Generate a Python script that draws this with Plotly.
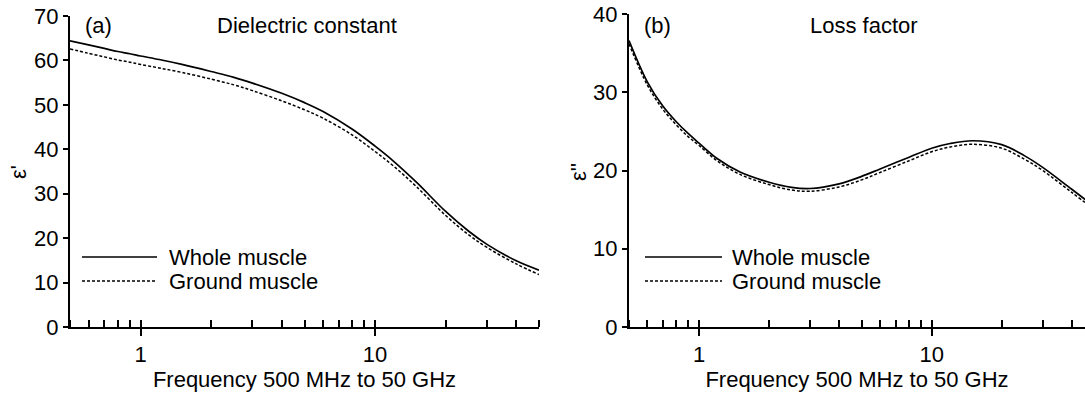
import plotly.graph_objects as go
import math

# Frequency (GHz)
freq = [0.5, 0.6, 0.7, 0.8, 0.9, 1, 1.2, 1.5, 2, 2.5, 3, 4, 5, 6, 8, 10, 12, 15, 20, 25, 30, 40, 50]

# (a) Dielectric constant
eps1_whole = [64.4, 63.5, 62.7, 62.0, 61.5, 61.0, 60.2, 59.1, 57.5, 56.2, 54.9, 52.6, 50.5, 48.5, 44.5, 40.7,
              37.3, 32.6, 26.0, 21.6, 18.6, 14.9, 12.8]
eps1_ground = [62.6, 61.6, 60.8, 60.1, 59.6, 59.1, 58.3, 57.3, 55.8, 54.5, 53.2, 50.9, 48.9, 47.0, 43.2, 39.5,
               36.2, 31.6, 25.1, 20.8, 17.9, 14.2, 11.8]

# (b) Loss factor
eps2_whole = [36.6, 31.3, 28.2, 26.2, 24.7, 23.5, 21.5, 19.8, 18.5, 17.85, 17.7, 18.3, 19.25, 20.2, 21.7, 22.85,
              23.45, 23.8, 23.3, 21.9, 20.4, 17.6, 15.4]
eps2_ground = [36.2, 30.9, 27.8, 25.8, 24.3, 23.2, 21.2, 19.5, 18.2, 17.5, 17.35, 17.9, 18.8, 19.75, 21.25, 22.4,
               23.0, 23.35, 22.85, 21.45, 20.0, 17.2, 15.0]

series_names = ["Whole muscle", "Ground muscle"]
panel_labels = ["(a)", "(b)"]
panel_titles = ["Dielectric constant", "Loss factor"]
y_titles = ["ε'", "ε''"]
x_title = "Frequency 500 MHz to 50 GHz"
x_tickvals = [1, 10]
x_ticktext = ["1", "10"]

FONT = "Arial, 'Liberation Sans', Helvetica, sans-serif"
W, H = 1085, 396
FS = 22


def px(x):
    return x / W


def py(y):
    return (H - y) / H


fig = go.Figure()

styles = [dict(color="black", width=1.7, dash="solid"),
          dict(color="black", width=1.5, dash="3px,2px")]

for i, ys in enumerate([eps1_whole, eps1_ground]):
    fig.add_trace(go.Scatter(x=freq, y=ys, mode="lines", name=series_names[i],
                             line=dict(shape="spline", smoothing=1.0, **styles[i]),
                             xaxis="x", yaxis="y", showlegend=False))
for i, ys in enumerate([eps2_whole, eps2_ground]):
    fig.add_trace(go.Scatter(x=freq, y=ys, mode="lines", name=series_names[i],
                             line=dict(shape="spline", smoothing=1.0, **styles[i]),
                             xaxis="x2", yaxis="y2", showlegend=False))


def xaxis(domain, anchor, rng):
    return dict(domain=domain, anchor=anchor, type="log", range=rng, automargin=False,
                tickvals=x_tickvals, ticktext=x_ticktext, ticklabeloverflow="allow",
                ticks="outside", ticklen=7, tickwidth=1.5, tickcolor="black",
                showline=True, linecolor="black", linewidth=2,
                showgrid=False, zeroline=False,
                tickfont=dict(family=FONT, size=FS, color="black"),
                minor=dict(dtick="D1", ticks="inside", ticklen=7, tickwidth=1.5,
                           tickcolor="black", showgrid=False),
                title=dict(text=x_title, font=dict(family=FONT, size=FS, color="black"), standoff=4))


def yaxis(domain, anchor, rng, dt):
    return dict(domain=domain, anchor=anchor, range=rng, dtick=dt, automargin=False,
                ticklabeloverflow="allow",
                ticks="outside", ticklen=5, tickwidth=1.5, tickcolor="black",
                showline=True, linecolor="black", linewidth=2,
                showgrid=False, zeroline=False,
                tickfont=dict(family=FONT, size=FS, color="black"))


xd1 = [px(70), px(539)]
xd2 = [px(629), 1.0]
yd1 = [py(327), py(16)]
yd2 = [py(327), py(14)]

fig.update_layout(
    width=W, height=H,
    margin=dict(l=0, r=0, t=0, b=0),
    paper_bgcolor="white", plot_bgcolor="white",
    font=dict(family=FONT, color="black"),
    hovermode=False,
    xaxis=xaxis(xd1, "y", [math.log10(0.5), math.log10(50)]),
    yaxis=yaxis(yd1, "x", [0, 70], 10),
    xaxis2=xaxis(xd2, "y2", [math.log10(0.5), math.log10(45.6)]),
    yaxis2=yaxis(yd2, "x2", [0, 40], 10),
)

# y-axis titles
for k, tx in enumerate([18, 578]):
    fig.add_annotation(x=px(tx), y=py(172), xref="paper", yref="paper", text=y_titles[k],
                       showarrow=False, textangle=-90, xanchor="center", yanchor="middle",
                       font=dict(family=FONT, size=FS, color="black"))

# Panel labels and titles
for k, (lx, tx) in enumerate([(83, 215), (642, 808)]):
    fig.add_annotation(x=px(lx), y=py(25), xref="paper", yref="paper", text=panel_labels[k],
                       showarrow=False, xanchor="left", yanchor="middle",
                       font=dict(family=FONT, size=FS, color="black"))
    fig.add_annotation(x=px(tx), y=py(25), xref="paper", yref="paper", text=panel_titles[k],
                       showarrow=False, xanchor="left", yanchor="middle",
                       font=dict(family=FONT, size=FS, color="black"))

# Legends (key lines + labels)
for (x0, x1, tx) in [(82, 157, 167), (645, 722, 730)]:
    for j, yy in enumerate([257, 281]):
        fig.add_shape(type="line", xref="paper", yref="paper",
                      x0=px(x0), x1=px(x1), y0=py(yy), y1=py(yy),
                      line=styles[j])
        fig.add_annotation(x=px(tx), y=py(yy), xref="paper", yref="paper",
                           text=series_names[j], showarrow=False,
                           xanchor="left", yanchor="middle",
                           font=dict(family=FONT, size=FS, color="black"))

# remove the browser's default 8px body margin so the figure fills the window exactly
fig.write_html("out.html", config={"displayModeBar": False},
               post_script="document.body.style.margin='0px';")
